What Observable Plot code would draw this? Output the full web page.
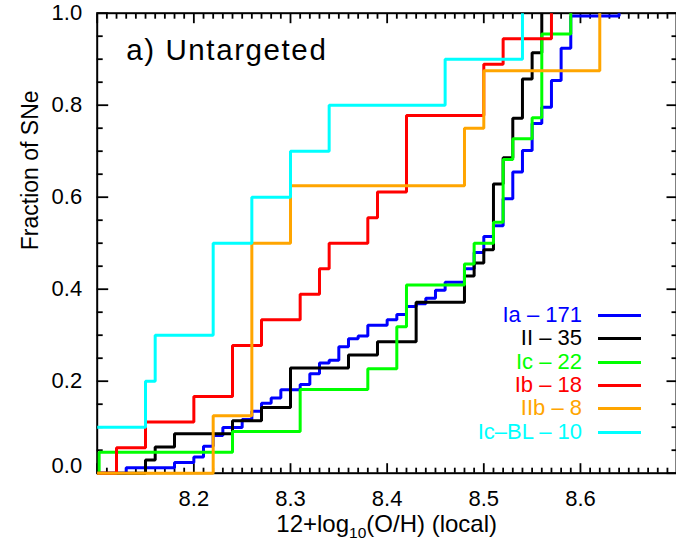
<!DOCTYPE html>
<html>
<head>
<meta charset="utf-8">
<script src="https://cdn.jsdelivr.net/npm/d3@7"></script>
<script src="https://cdn.jsdelivr.net/npm/@observablehq/plot@0.6"></script>
<style>
  html, body { margin: 0; padding: 0; background: #ffffff; }
  #chart {
    position: relative; width: 676px; height: 545px; overflow: hidden;
    font-family: "Liberation Sans", Arial, Helvetica, sans-serif;
  }
  .legend { position: absolute; right: 35px; top: 303.8px; }
  .legend .row { display: flex; justify-content: flex-end; align-items: center; height: 23.35px; }
  .legend .lab { font-size: 22px; line-height: 23px; white-space: nowrap; position: relative; top: -1px; }
  .legend .swatch { width: 43px; height: 3px; margin-left: 16px; }
</style>
</head>
<body>
<div id="chart"></div>
<script>
// Supernova types, sample sizes and line colours
const snTypes  = ["Ia", "II", "Ic", "Ib", "IIb", "Ic–BL"];
const snTotals = [171, 35, 22, 18, 8, 10];
const snColors = ["#0000ff", "#000000", "#00ff00", "#ff0000", "#ffa500", "#00ffff"];

// Local host metallicity 12+log10(O/H) and number of SNe at each value
const iaZ     = [8.13, 8.18, 8.20, 8.21, 8.22, 8.23, 8.25, 8.26, 8.27, 8.28, 8.29, 8.31, 8.32, 8.33, 8.34, 8.35, 8.36, 8.37, 8.38, 8.40,
                 8.41, 8.42, 8.43, 8.44, 8.45, 8.46, 8.48, 8.49, 8.50, 8.51, 8.52, 8.53, 8.54, 8.55, 8.56, 8.57, 8.58, 8.59, 8.64];
const iaCount = [2, 2, 2, 4, 4, 3, 3, 3, 3, 2, 3, 2, 4, 4, 1, 5, 3, 1, 4, 2,
                 2, 3, 1, 2, 3, 3, 5, 6, 6, 4, 10, 10, 8, 10, 6, 10, 12, 12, 1];

const iiZ     = [8.15, 8.16, 8.18, 8.24, 8.27, 8.30, 8.36, 8.39, 8.43, 8.48, 8.49, 8.50, 8.51, 8.52, 8.53, 8.54, 8.55, 8.56];
const iiCount = [1, 1, 1, 1, 1, 3, 1, 1, 3, 2, 1, 1, 5, 2, 3, 3, 2, 3];

const icZ     = [8.102, 8.24, 8.31, 8.38, 8.41, 8.42, 8.48, 8.49, 8.51, 8.52, 8.53, 8.55, 8.56, 8.59];
const icCount = [1, 1, 2, 1, 2, 2, 1, 1, 1, 3, 1, 1, 4, 1];

const ibZ     = [8.12, 8.15, 8.20, 8.24, 8.27, 8.31, 8.33, 8.34, 8.38, 8.39, 8.42, 8.50, 8.52, 8.57];
const ibCount = [1, 1, 1, 2, 1, 1, 1, 1, 1, 1, 3, 2, 1, 1];

const iibZ     = [8.22, 8.26, 8.30, 8.48, 8.50, 8.62];
const iibCount = [1, 3, 1, 1, 1, 1];

const icblZ     = [8.08, 8.15, 8.16, 8.22, 8.26, 8.30, 8.34, 8.46, 8.54];
const icblCount = [1, 1, 1, 2, 1, 1, 1, 1, 1];

// Axis ticks and texts
const xDomain   = [8.1, 8.7];
const yDomain   = [0, 1];
const xLabelTicks = [8.2, 8.3, 8.4, 8.5, 8.6];
const yLabelTicks = [0.2, 0.4, 0.6, 0.8, 1.0];
const xMajor = d3.range(81, 88).map(d => d / 10);
const xMinor = d3.range(810, 871).map(d => d / 100).filter(d => Math.round(d * 100) % 10 !== 0);
const yMajor = d3.range(0, 6).map(d => d / 5);
const yMinor = d3.range(0, 21).map(d => d / 20).filter(d => Math.round(d * 20) % 4 !== 0);
const panelTitle = "a) Untargeted";
const yTitle = "Fraction of SNe";
const lineStart = 8.0; // every curve rises from zero, left of the plotted range

// Cumulative fraction of each type, as points for a step-after line
const seriesZ = [iaZ, iiZ, icZ, ibZ, iibZ, icblZ];
const seriesCount = [iaCount, iiCount, icCount, ibCount, iibCount, icblCount];
const cdf = [];
snTypes.forEach((type, i) => {
  const cum = d3.cumsum(seriesCount[i]);
  cdf.push({type, z: lineStart, f: 0});
  seriesZ[i].forEach((z, j) => cdf.push({type, z, f: cum[j] / snTotals[i]}));
});

const W = 676, H = 545;
const mL = 96.7, mT = 12.7, mB = 72.3;
const ink = "#000000";
const tickCommon = {stroke: ink, strokeWidth: 1.8, tickFormat: () => "", label: null};

const chart = Plot.plot({
  width: W,
  height: H,
  marginLeft: mL,
  marginRight: 0,
  marginTop: mT,
  marginBottom: mB,
  style: {fontFamily: '"Liberation Sans", Arial, Helvetica, sans-serif', fontSize: "22px", color: ink, background: "#ffffff"},
  x: {domain: xDomain, range: [mL, 676.6], label: null},
  y: {domain: yDomain, range: [H - mB, mT], label: null},
  color: {domain: snTypes, range: snColors},
  marks: [
    Plot.frame({stroke: ink, strokeWidth: 2}),
    // inward ticks on all four sides
    Plot.axisX({...tickCommon, anchor: "bottom", ticks: xMinor, tickSize: -5}),
    Plot.axisX({...tickCommon, anchor: "bottom", ticks: xMajor, tickSize: -9.5}),
    Plot.axisX({...tickCommon, anchor: "top", ticks: xMinor, tickSize: -5}),
    Plot.axisX({...tickCommon, anchor: "top", ticks: xMajor, tickSize: -9.5}),
    Plot.axisY({...tickCommon, anchor: "left", ticks: yMinor, tickSize: -6}),
    Plot.axisY({...tickCommon, anchor: "left", ticks: yMajor, tickSize: -11.5}),
    Plot.axisY({...tickCommon, anchor: "right", ticks: yMinor, tickSize: -5.5}),
    Plot.axisY({...tickCommon, anchor: "right", ticks: yMajor, tickSize: -10.5}),
    // tick labels
    Plot.axisX({anchor: "bottom", ticks: xLabelTicks, tickSize: 0, tickPadding: 17, tickFormat: d3.format(".1f"),
                fontSize: 22, fill: ink, label: null}),
    Plot.axisY({anchor: "left", ticks: yLabelTicks, tickSize: 0, tickPadding: 15, tickFormat: d3.format(".1f"),
                fontSize: 22, fill: ink, label: null}),
    Plot.axisY({anchor: "left", ticks: [0], tickSize: 0, tickPadding: 15, tickFormat: d3.format(".1f"),
                fontSize: 22, fill: ink, label: null, dy: -7}),
    // panel title and y-axis title
    Plot.text([panelTitle], {text: d => d, frameAnchor: "top-left", dx: 29, dy: 26, lineAnchor: "top",
                             textAnchor: "start", fontSize: 29.5, fill: ink}),
    Plot.text([yTitle], {text: d => d, frameAnchor: "left", dx: -67, dy: 7, rotate: -90,
                         fontSize: 23, fill: ink}),
    // cumulative distributions
    Plot.line(cdf, {x: "z", y: "f", z: "type", stroke: "type", curve: "step-after",
                    strokeWidth: 3, strokeLinejoin: "miter", strokeLinecap: "butt"})
  ]
});

const host = document.getElementById("chart");
host.appendChild(chart);

// Curves are cut at the left and right edges of the plot window only
const xs = chart.scale("x");
const svg = d3.select(chart);
svg.append("defs").append("clipPath").attr("id", "plot-window-x")
  .append("rect")
  .attr("x", xs.apply(xDomain[0])).attr("y", 0)
  .attr("width", xs.apply(xDomain[1]) - xs.apply(xDomain[0]) + 2).attr("height", H);
svg.selectAll('g[aria-label="line"]').attr("clip-path", "url(#plot-window-x)");

// the panel title is set a little wider
svg.selectAll("text").filter(function () { return this.textContent === panelTitle; })
  .style("letter-spacing", "1.6px");

// x-axis title with a subscripted base
const xt = svg.append("text")
  .attr("x", xs.apply(8.4)).attr("y", 532)
  .attr("text-anchor", "middle").attr("font-size", 24).attr("fill", ink);
xt.append("tspan").text("12+log");
xt.append("tspan").attr("font-size", 15.5).attr("dy", 6).text("10");
xt.append("tspan").attr("dy", -6).text("(O/H) (local)");

// legend inside the plot window
const legend = d3.select(host).append("div").attr("class", "legend");
snTypes.forEach((type, i) => {
  const row = legend.append("div").attr("class", "row");
  row.append("span").attr("class", "lab").style("color", snColors[i]).text(`${type} – ${snTotals[i]}`);
  row.append("span").attr("class", "swatch").style("background", snColors[i]);
});
</script>
</body>
</html>
